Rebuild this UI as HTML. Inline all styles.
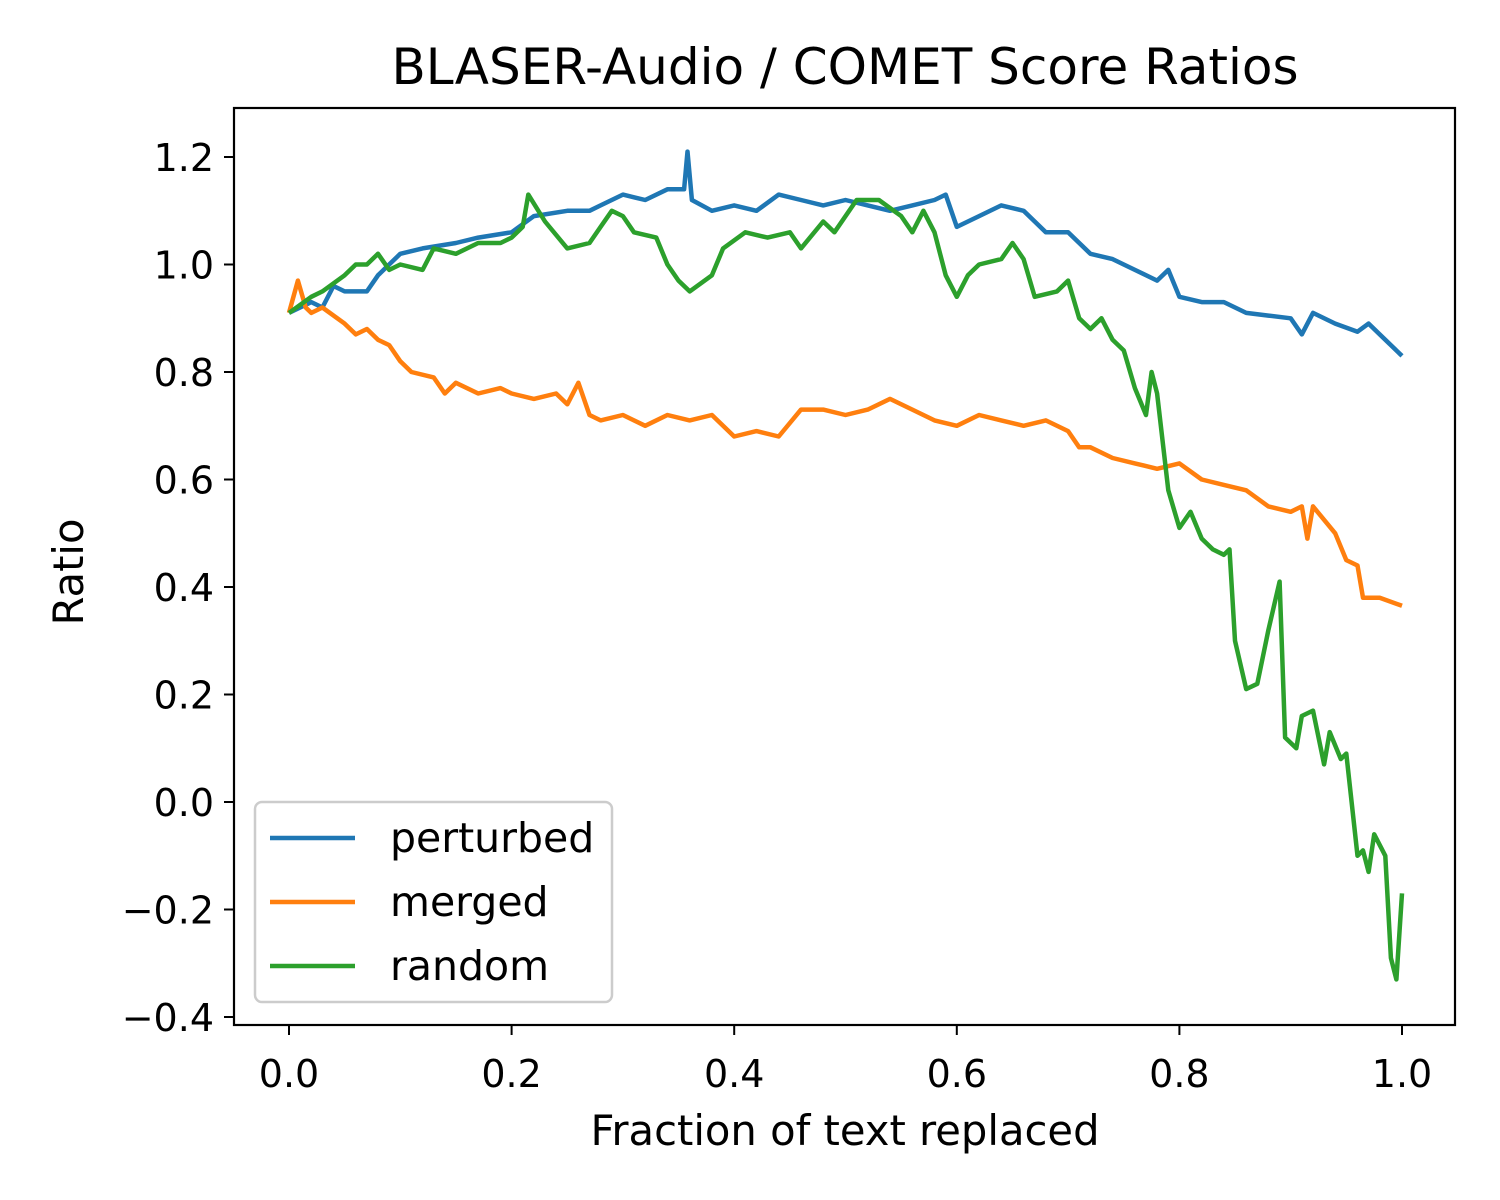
<!DOCTYPE html>
<html><head><meta charset="utf-8"><style>
body{margin:0;background:#fff}
svg{display:block;font-family:"DejaVu Sans","Liberation Sans",sans-serif}
</style></head><body>
<svg id="chart" width="1500" height="1200" viewBox="0 0 1500 1200">
<text x="845" y="84" font-size="50" text-anchor="middle">BLASER-Audio / COMET Score Ratios</text>
<text x="845" y="1145" font-size="41.7" text-anchor="middle">Fraction of text replaced</text>
<text transform="translate(83,572) rotate(-90)" font-size="41.7" text-anchor="middle">Ratio</text>
<g id="ticks"></g>
<g id="series"></g>
<rect x="234" y="108" width="1221" height="917" fill="none" stroke="#000" stroke-width="2.2"/>
<g id="legend">
<rect x="255" y="802" width="357" height="200" rx="7" fill="#fff" fill-opacity="0.8" stroke="#ccc" stroke-width="2.5"/>
</g>
</svg>
<script>
const xTicks=[0,0.2,0.4,0.6,0.8,1.0];
const xTickLabels=["0.0","0.2","0.4","0.6","0.8","1.0"];
const yTicks=[-0.4,-0.2,0,0.2,0.4,0.6,0.8,1.0,1.2];
const yTickLabels=["\u22120.4","\u22120.2","0.0","0.2","0.4","0.6","0.8","1.0","1.2"];
const seriesNames=["perturbed","merged","random"];
const seriesColors=["#1f77b4","#ff7f0e","#2ca02c"];
const perturbedX=[0,0.02,0.03,0.04,0.05,0.07,0.08,0.1,0.12,0.15,0.17,0.2,0.22,0.25,0.27,0.28,0.3,0.32,0.34,0.355,0.358,0.362,0.38,0.4,0.42,0.44,0.46,0.48,0.5,0.52,0.54,0.56,0.58,0.59,0.6,0.62,0.64,0.66,0.68,0.7,0.72,0.74,0.76,0.78,0.79,0.8,0.82,0.84,0.86,0.88,0.9,0.91,0.92,0.94,0.96,0.97,0.98,1.0];
const perturbedY=[0.91,0.93,0.92,0.96,0.95,0.95,0.98,1.02,1.03,1.04,1.05,1.06,1.09,1.10,1.10,1.11,1.13,1.12,1.14,1.14,1.21,1.12,1.10,1.11,1.10,1.13,1.12,1.11,1.12,1.11,1.10,1.11,1.12,1.13,1.07,1.09,1.11,1.10,1.06,1.06,1.02,1.01,0.99,0.97,0.99,0.94,0.93,0.93,0.91,0.905,0.90,0.87,0.91,0.89,0.875,0.89,0.87,0.83];
const mergedX=[0,0.008,0.015,0.02,0.03,0.05,0.06,0.07,0.08,0.09,0.1,0.11,0.13,0.14,0.15,0.17,0.19,0.2,0.22,0.24,0.25,0.26,0.27,0.28,0.3,0.32,0.34,0.36,0.38,0.4,0.42,0.44,0.46,0.48,0.5,0.52,0.54,0.56,0.58,0.6,0.62,0.64,0.66,0.68,0.7,0.71,0.72,0.74,0.76,0.78,0.8,0.82,0.84,0.86,0.88,0.9,0.91,0.915,0.92,0.94,0.95,0.96,0.965,0.98,1.0];
const mergedY=[0.91,0.97,0.92,0.91,0.92,0.89,0.87,0.88,0.86,0.85,0.82,0.80,0.79,0.76,0.78,0.76,0.77,0.76,0.75,0.76,0.74,0.78,0.72,0.71,0.72,0.70,0.72,0.71,0.72,0.68,0.69,0.68,0.73,0.73,0.72,0.73,0.75,0.73,0.71,0.70,0.72,0.71,0.70,0.71,0.69,0.66,0.66,0.64,0.63,0.62,0.63,0.60,0.59,0.58,0.55,0.54,0.55,0.49,0.55,0.50,0.45,0.44,0.38,0.38,0.365];
const randomX=[0,0.02,0.03,0.05,0.06,0.07,0.08,0.09,0.1,0.12,0.13,0.15,0.17,0.19,0.2,0.21,0.215,0.23,0.25,0.27,0.28,0.29,0.3,0.31,0.33,0.34,0.35,0.36,0.38,0.39,0.41,0.43,0.45,0.46,0.48,0.49,0.51,0.53,0.55,0.56,0.57,0.58,0.59,0.6,0.61,0.62,0.64,0.65,0.66,0.67,0.69,0.7,0.71,0.72,0.73,0.74,0.75,0.76,0.77,0.775,0.78,0.79,0.8,0.81,0.82,0.83,0.84,0.845,0.85,0.86,0.87,0.88,0.89,0.895,0.905,0.91,0.92,0.93,0.935,0.945,0.95,0.96,0.965,0.97,0.975,0.985,0.99,0.995,1.0];
const randomY=[0.91,0.94,0.95,0.98,1.0,1.0,1.02,0.99,1.0,0.99,1.03,1.02,1.04,1.04,1.05,1.07,1.13,1.08,1.03,1.04,1.07,1.10,1.09,1.06,1.05,1.00,0.97,0.95,0.98,1.03,1.06,1.05,1.06,1.03,1.08,1.06,1.12,1.12,1.09,1.06,1.10,1.06,0.98,0.94,0.98,1.00,1.01,1.04,1.01,0.94,0.95,0.97,0.90,0.88,0.90,0.86,0.84,0.77,0.72,0.80,0.76,0.58,0.51,0.54,0.49,0.47,0.46,0.47,0.30,0.21,0.22,0.32,0.41,0.12,0.10,0.16,0.17,0.07,0.13,0.08,0.09,-0.10,-0.09,-0.13,-0.06,-0.10,-0.29,-0.33,-0.17];

const NS="http://www.w3.org/2000/svg";
const xs=v=>289+v*1113;
const ys=v=>802-v*537.5;
const tg=document.getElementById('ticks');
function mk(tag,attrs,parent){const e=document.createElementNS(NS,tag);for(const k in attrs)e.setAttribute(k,attrs[k]);parent.appendChild(e);return e;}
xTicks.forEach((t,i)=>{
  const l=mk('line',{x1:xs(t),x2:xs(t),y1:1025,y2:1035,stroke:'#000','stroke-width':2},tg);
  
  
  const tx=mk('text',{x:xs(t),y:1087,'font-size':38,'text-anchor':'middle'},tg);
  tx.textContent=xTickLabels[i];
  
  
});
yTicks.forEach((t,i)=>{
  const l=mk('line',{x1:224,x2:234,y1:ys(t),y2:ys(t),stroke:'#000','stroke-width':2},tg);
  
  
  const tx=mk('text',{x:214,y:ys(t)+14,'font-size':38,'text-anchor':'end'},tg);
  tx.textContent=yTickLabels[i];
  
  
});
const sg=document.getElementById('series');
const data=[[perturbedX,perturbedY],[mergedX,mergedY],[randomX,randomY]];
data.forEach((d,k)=>{
  const pts=d[0].map((x,i)=>xs(x).toFixed(1)+','+ys(d[1][i]).toFixed(1)).join(' ');
  const p=mk('polyline',{points:pts,fill:'none',stroke:seriesColors[k],'stroke-width':4.5,'stroke-linejoin':'round'},sg);
  
  
});
const lg=document.getElementById('legend');
seriesNames.forEach((n,k)=>{
  const y=838+k*64;
  const l=mk('line',{x1:270,x2:355,y1:y,y2:y,stroke:seriesColors[k],'stroke-width':4.5},lg);
  
  
  const t=mk('text',{x:390,y:y+14,'font-size':41},lg);
  t.textContent=n;
  
  
});
</script>
</body></html>
